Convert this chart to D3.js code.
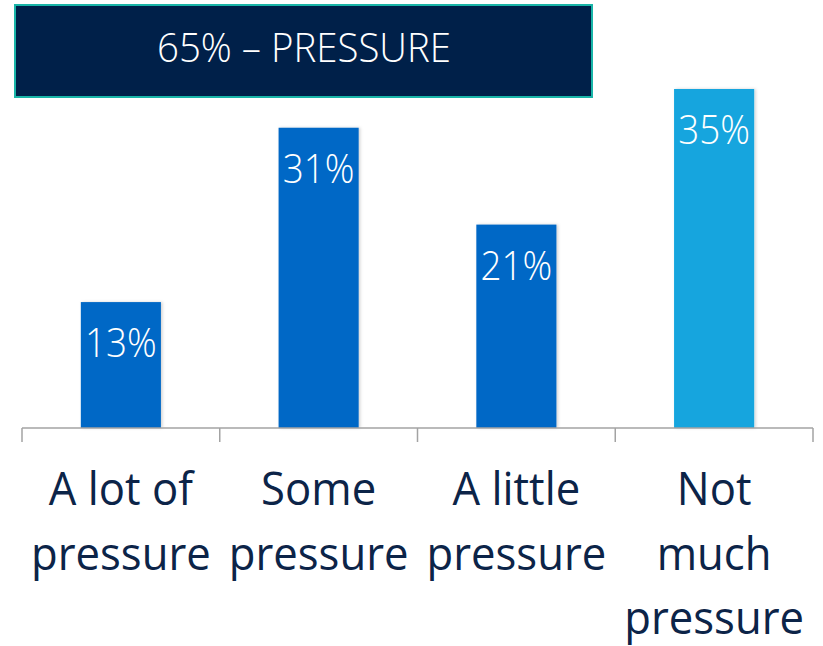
<!DOCTYPE html>
<html>
<head>
<meta charset="utf-8">
<script src="https://cdn.jsdelivr.net/npm/d3@7"></script>
<style>
  html, body { margin: 0; padding: 0; background: #ffffff; }
  svg { display: block; }
  text { font-family: "Open Sans", "Noto Sans", sans-serif; }
</style>
</head>
<body>
<svg id="chart" width="823" height="646"></svg>
<script>
// Share of respondents by how much pressure they feel
const categories = ["A lot of pressure", "Some pressure", "A little pressure", "Not much pressure"];
const categoryLines = [["A lot of", "pressure"], ["Some", "pressure"], ["A little", "pressure"], ["Not", "much", "pressure"]];
const values = [13, 31, 21, 35];
const barColors = ["#0068c6", "#0068c6", "#0068c6", "#13a5de"];
const headline = "65% \u2013 PRESSURE";

const svg = d3.select("#chart");

const x = d3.scaleBand().domain(categories).range([22, 813]).padding(0);
const y = d3.scaleLinear().domain([0, 35]).range([428, 89]);
const barW = x.bandwidth() * 0.405;

// Soft drop shadow under the bars
const defs = svg.append("defs");
const f = defs.append("filter").attr("id", "shadow").attr("x", "-20%").attr("y", "-20%").attr("width", "140%").attr("height", "140%");
f.append("feDropShadow").attr("dx", 1.5).attr("dy", 0).attr("stdDeviation", 1.5).attr("flood-color", "#000").attr("flood-opacity", 0.18);

// Headline banner
svg.append("rect")
  .attr("x", 15).attr("y", 5).attr("width", 577).attr("height", 92)
  .attr("fill", "#002049").attr("stroke", "#19b5a8").attr("stroke-width", 2);
const head = svg.append("text")
  .attr("x", 304).attr("y", 62)
  .attr("text-anchor", "middle")
  .attr("fill", "#ffffff")
  .attr("font-size", 40)
  .attr("font-weight", 300)
  .text(headline);

// Bars
svg.append("g").selectAll("rect")
  .data(values)
  .join("rect")
  .attr("x", (d, i) => x(categories[i]) + (x.bandwidth() - barW) / 2)
  .attr("y", d => y(d))
  .attr("width", barW)
  .attr("height", d => y(0) - y(d))
  .attr("fill", (d, i) => barColors[i])
  .attr("filter", "url(#shadow)");

// Value labels inside the bars
const valueLabels = svg.append("g").selectAll("text")
  .data(values)
  .join("text")
  .attr("x", (d, i) => x(categories[i]) + x.bandwidth() / 2)
  .attr("y", d => y(d) + 55)
  .attr("text-anchor", "middle")
  .attr("fill", "#ffffff")
  .attr("font-size", 40)
  .attr("font-weight", 300)
  .text(d => d + "%");

// Baseline with tick marks at the category boundaries
const axis = svg.append("g").attr("stroke", "#a3a3a3").attr("stroke-width", 1.5);
axis.append("line").attr("x1", x.range()[0]).attr("x2", x.range()[1]).attr("y1", y(0)).attr("y2", y(0));
const tickXs = categories.map(c => x(c)).concat([x.range()[1]]);
axis.selectAll("line.tick").data(tickXs).join("line").attr("class", "tick")
  .attr("x1", d => d).attr("x2", d => d).attr("y1", y(0)).attr("y2", y(0) + 14);

// Category labels, wrapped over several lines
const catG = svg.append("g");
categoryLines.forEach((lines, i) => {
  const t = catG.append("text")
    .attr("text-anchor", "middle")
    .attr("fill", "#0c2448")
    .attr("font-size", 45);
  lines.forEach((ln, j) => {
    t.append("tspan")
      .attr("x", x(categories[i]) + x.bandwidth() / 2)
      .attr("y", 505 + j * 64.5)
      .text(ln);
  });
});

// Adjust label widths horizontally by a common factor
function narrow(sel, k) {
  sel.each(function () {
    const w = this.getComputedTextLength();
    d3.select(this).attr("textLength", w * k).attr("lengthAdjust", "spacingAndGlyphs");
  });
}
narrow(catG.selectAll("tspan"), 0.97);
narrow(valueLabels, 0.92);
narrow(head, 0.96);
</script>
</body>
</html>
